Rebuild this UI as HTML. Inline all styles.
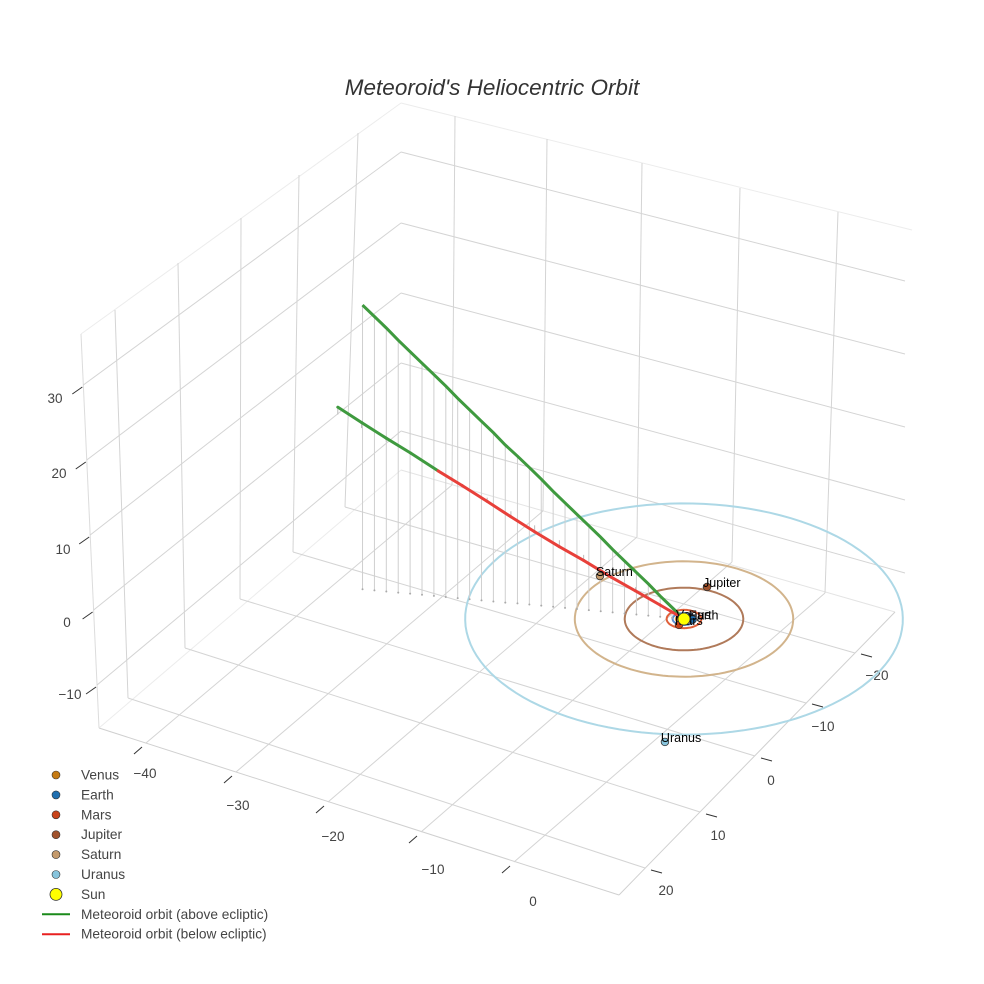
<!DOCTYPE html>
<html><head><meta charset="utf-8">
<style>
html,body{margin:0;padding:0;background:#fff;}
svg{display:block;font-family:"Liberation Sans",sans-serif;}
</style></head>
<body>
<svg id="chart" width="984" height="984" viewBox="0 0 984 984" xmlns="http://www.w3.org/2000/svg">
<rect width="984" height="984" fill="#fff"/>
<text x="492" y="95" text-anchor="middle" font-size="22.5" font-style="italic" fill="#333">Meteoroid's Heliocentric Orbit</text>
<g id="grid"></g>
<g id="ticks"></g>
<g id="plot"></g>
<g id="legend"></g>
</svg>
<script>
// ---- data ----
const planetNames = ["Venus","Earth","Mars","Jupiter","Saturn","Uranus"];
const planetColors = ["#c57a12","#1f6fb0","#c8431a","#a0522d","#c49a6c","#87c4dc"];
const orbitColors = ["#e8a060","#5b8fd0","#e0603a","#b07a5a","#d2b48c","#add8e6"];
const orbitRadii = [0.72,1.0,1.52,5.2,9.58,19.2];
const planetX = [-0.3,0.7,0.1,-0.83,-9.91,8.5];
const planetY = [0.2,-0.3,1.08,-5.63,-2.62,18.64];
const upperX = [-27.0,-26.0,-25.0,-24.0,-23.0,-22.0,-21.0,-20.0,-19.0,-18.0,-17.0,-16.0,-15.0,-14.0,-13.0,-12.0,-11.0,-10.0,-9.0,-8.0,-7.0,-6.0,-5.0,-4.0,-3.0,-2.0,-1.0,0];
const upperY = [9.5,9.15,8.8,8.45,8.1,7.75,7.4,7.05,6.7,6.35,6.0,5.65,5.3,4.9,4.55,4.2,3.85,3.5,3.15,2.8,2.45,2.1,1.75,1.4,1.05,0.7,0.35,0];
const upperZ = [38.4,37.0,35.6,34.1,32.7,31.3,29.9,28.5,27.0,25.6,24.2,22.8,21.3,19.9,18.5,17.1,15.6,14.2,12.8,11.4,10.0,8.5,7.1,5.7,4.3,2.8,1.4,0];
const lowerX = [-43.4,-40.4,-37.3,-34.3,-30.8,-27.8,-24.7,-21.7,-18.7,-15.6,-12.6,-9.1,-6.1,-3.0,0];
const lowerY = [-15.4,-14.3,-13.2,-12.2,-10.9,-9.9,-8.8,-7.7,-6.6,-5.5,-4.5,-3.2,-2.2,-1.1,0];
const lowerZ = [0.4,0.3,0.2,0.1,0.0,-0.1,-0.2,-0.3,-0.35,-0.35,-0.3,-0.25,-0.2,-0.1,0];
const xTickLabels = ["\u221240","\u221230","\u221220","\u221210","0"];
const yTickLabels = ["\u221220","\u221210","0","10","20"];
const zTickLabels = ["30","20","10","0","\u221210"];

// ---- projection (linear approximation of the 3D camera) ----
const O=[684,619], AX=[9.95,2.95], AY=[-5.56,5.25], AZ=[0,-7.4];
function proj(x,y,z){return [O[0]+x*AX[0]+y*AY[0]+z*AZ[0], O[1]+x*AX[1]+y*AY[1]+z*AZ[1]];}

const NS="http://www.w3.org/2000/svg";
function mk(tag,parent,attrs){const e=document.createElementNS(NS,tag);for(const k in attrs)e.setAttribute(k,attrs[k]);parent.appendChild(e);return e;}
const grid=document.getElementById('grid'), ticks=document.getElementById('ticks'), plot=document.getElementById('plot'), legend=document.getElementById('legend');

// ---- scene box / grid (screen geometry) ----
function gl(x1,y1,x2,y2,c){const l=mk('line',grid,{x1,y1,x2,y2,stroke:c||'#d4d4d4','stroke-width':1});

}
gl(81,334,401,103,'#ececec'); gl(401,103,912,230,'#ececec');
gl(81,334,99,728,'#dcdcdc'); gl(99,728,401,470,'#ececec'); gl(401,470,895,612,'#e4e4e4');
gl(99,728,619,895,'#d0d0d0'); gl(619,895,895,612,'#d0d0d0');
const zFront=[385,460,535,610,685], zBack=[152,223,293,363,431], zRight=[281,354,427,500,573];
for(let i=0;i<5;i++){const fx=81+(zFront[i]-334)/(728-334)*18; gl(fx,zFront[i],401,zBack[i]); gl(401,zBack[i],905,zRight[i]);}
[[115,310,128,698],[178,263,185,648],[241,218,240,599],[299,175,293,552],[358,133,345,507]].forEach(a=>gl(a[0],a[1],a[2],a[3]));
[[455,116,452,485],[547,139,543,511],[642,163,637,537],[740,188,732,562],[838,212,825,593]].forEach(a=>gl(a[0],a[1],a[2],a[3]));
[[146,743,452,485],[236,772,543,511],[328,802,637,537],[421,832,732,562],[514,862,825,593]].forEach(a=>gl(a[0],a[1],a[2],a[3]));
[[128,698,645,868],[185,648,700,812],[240,599,755,756],[293,552,806,703],[345,507,855,653]].forEach(a=>gl(a[0],a[1],a[2],a[3]));

function tk(x1,y1,x2,y2){const l=mk('line',ticks,{x1,y1,x2,y2,stroke:'#333','stroke-width':1});

}
function tl(x,y,s,name){const t=mk('text',ticks,{x,y,'text-anchor':'middle','font-size':13.5,fill:'#444'});t.textContent=s;

}
const xEdge=[[146,743],[236,772],[328,802],[421,832],[514,862]];
const xLab=[[145,773],[238,805],[333,836],[433,869],[533,901]];
xTickLabels.forEach((s,i)=>{tk(xEdge[i][0]-4,xEdge[i][1]+4,xEdge[i][0]-12,xEdge[i][1]+11);tl(xLab[i][0],xLab[i][1]+5,s,'x-tick-label');});
const yEdge=[[645,868],[700,812],[755,756],[806,702],[855,652]];
const yLab=[[666,890],[718,835],[771,780],[823,726],[877,675]];
yTickLabels.slice().reverse().forEach((s,i)=>{tk(yEdge[i][0]+6,yEdge[i][1]+2,yEdge[i][0]+17,yEdge[i][1]+5);tl(yLab[i][0],yLab[i][1]+5,s,'y-tick-label');});
const zLab=[[55,398],[59,473],[63,549],[67,622],[70,694]];
zTickLabels.forEach((s,i)=>{const fx=81+(zFront[i]-334)/(728-334)*18;tk(fx-1,zFront[i]+2,fx-11,zFront[i]+9);tl(zLab[i][0],zLab[i][1]+5,s,'z-tick-label');});

// ---- orbits ----
orbitRadii.forEach((r,i)=>{
  let pts=[];
  for(let k=0;k<=120;k++){const a=k/120*2*Math.PI;const p=proj(r*Math.cos(a),r*Math.sin(a),0);pts.push(p[0].toFixed(1)+','+p[1].toFixed(1));}
  const e=mk('polyline',plot,{points:pts.join(' '),fill:'none',stroke:orbitColors[i],'stroke-width':2});
  
  
});

// ---- meteoroid drop lines ----
upperX.forEach((x,i)=>{
  const a=proj(x,upperY[i],upperZ[i]), b=proj(x,upperY[i],0);
  const l=mk('line',plot,{x1:a[0],y1:a[1],x2:b[0],y2:b[1],stroke:'#cfcfcf','stroke-width':1});
  
  
  const d=mk('circle',plot,{cx:b[0],cy:b[1],r:1,fill:'#aaa'});
  
  
});
lowerX.forEach((x,i)=>{
  const a=proj(x,lowerY[i],lowerZ[i]), b=proj(x,lowerY[i],-lowerZ[i]*1.5);
  const l=mk('line',plot,{x1:a[0],y1:a[1],x2:b[0],y2:b[1],stroke:'#bbb','stroke-width':1});
  
  
});
{
  const pts=upperX.map((x,i)=>proj(x,upperY[i],upperZ[i]).map(v=>v.toFixed(1)).join(',')).join(' ');
  const l=mk('polyline',plot,{points:pts,fill:'none',stroke:'#3f9a3f','stroke-width':3});
  
  
}
for(let i=0;i<lowerX.length-1;i++){
  const a=proj(lowerX[i],lowerY[i],lowerZ[i]), b=proj(lowerX[i+1],lowerY[i+1],lowerZ[i+1]);
  const above=(lowerZ[i]+lowerZ[i+1])/2>=0;
  const l=mk('line',plot,{x1:a[0],y1:a[1],x2:b[0],y2:b[1],stroke:above?'#3f9a3f':'#e8403a','stroke-width':3,'stroke-linecap':'round'});
  
  
}

// ---- planets ----
const sunP=proj(0,0,0);
planetNames.forEach((n,i)=>{
  const p=proj(planetX[i],planetY[i],0);
  const c=mk('circle',plot,{cx:p[0],cy:p[1],r:3.8,fill:planetColors[i],stroke:'#333','stroke-width':0.8});
  
  
  const t=mk('text',plot,{x:p[0]-4,y:p[1],'font-size':12.5,fill:'#000'});
  t.textContent=n;
  
  
});
{
  const s=mk('circle',plot,{cx:sunP[0],cy:sunP[1],r:6,fill:'#ffff00',stroke:'#333','stroke-width':0.8});
  
  
}

// ---- legend ----
const legNames=planetNames.concat(["Sun","Meteoroid orbit (above ecliptic)","Meteoroid orbit (below ecliptic)"]);
legNames.forEach((n,i)=>{
  const y=775+i*19.9;
  const g=mk('g',legend,{});
  
  
  if(i<6){mk('circle',g,{cx:56,cy:y,r:4,fill:planetColors[i],stroke:'#333','stroke-width':0.6});}
  else if(i===6){mk('circle',g,{cx:56,cy:y,r:6,fill:'#ffff00',stroke:'#333','stroke-width':0.8});}
  else{mk('line',g,{x1:42,y1:y,x2:70,y2:y,stroke:i===7?'#1a8a1a':'#e82020','stroke-width':2});}
  const t=mk('text',g,{x:81,y:y+4.5,'font-size':13.7,fill:'#444'});
  t.textContent=n;
});
</script>
</body></html>
